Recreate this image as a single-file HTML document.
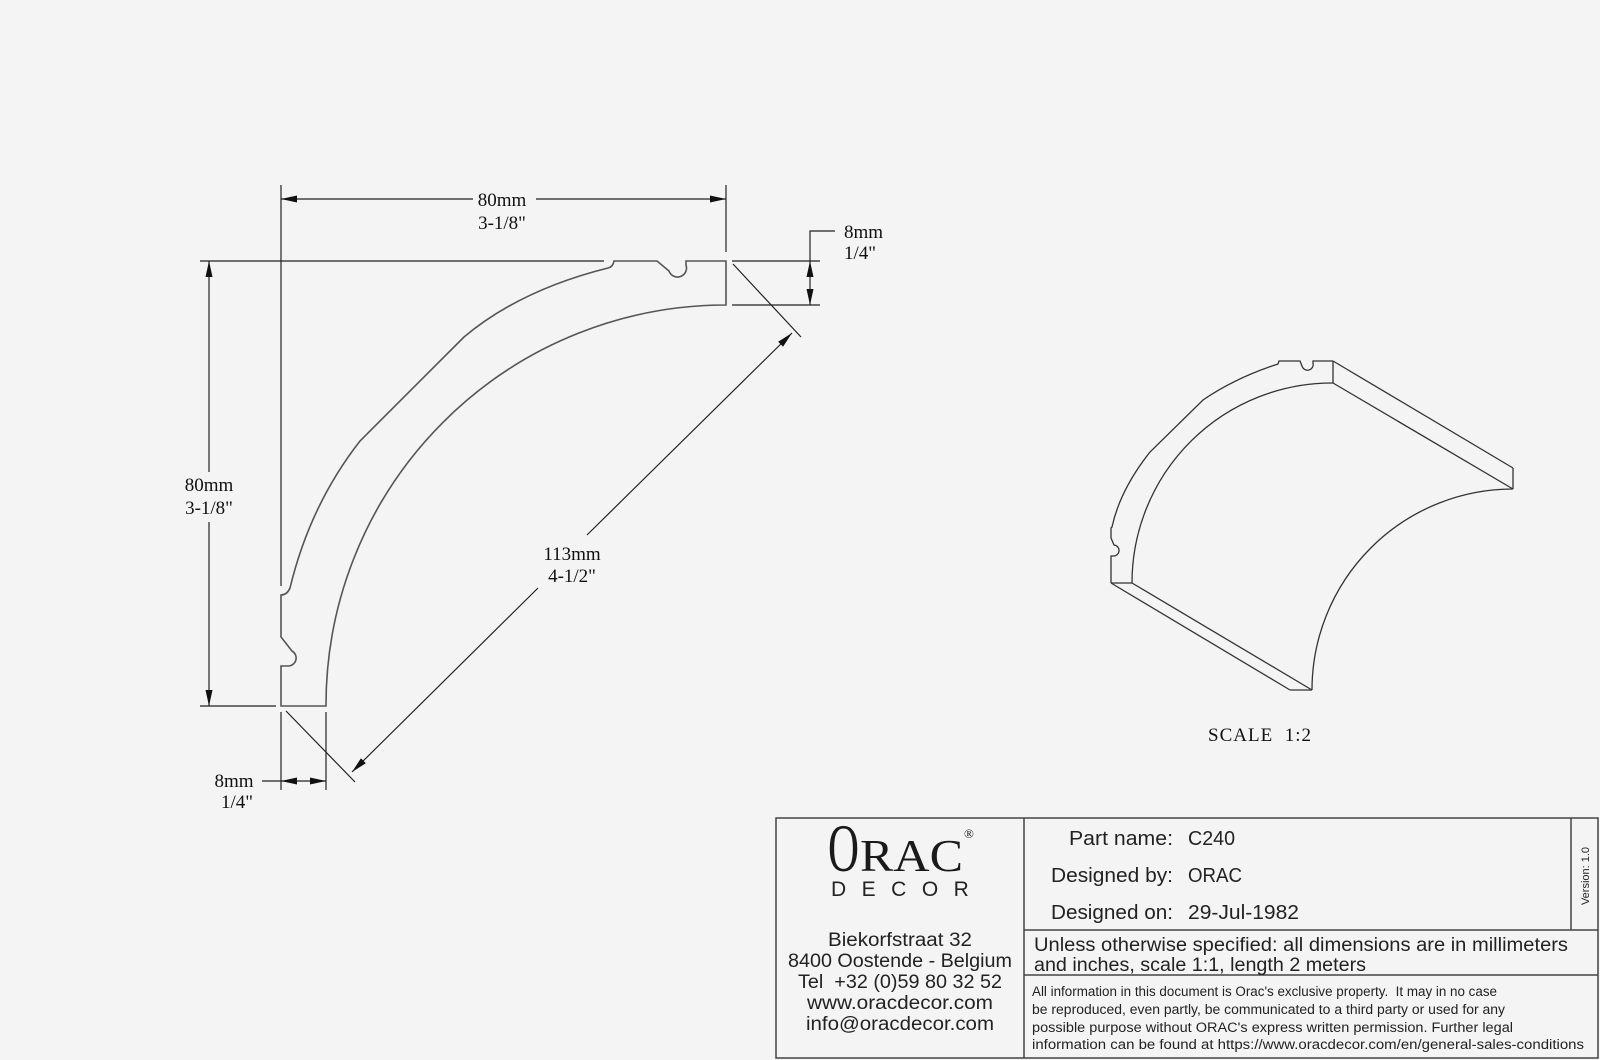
<!DOCTYPE html>
<html><head><meta charset="utf-8"><style>
html,body{margin:0;padding:0;background:#f4f4f4;}
svg{display:block}
.d{font-family:"Liberation Serif",serif;font-size:19px;fill:#111}
.c{font-family:"Liberation Sans",sans-serif;fill:#222}
</style></head><body>
<svg width="1600" height="1060" viewBox="0 0 1600 1060" xmlns="http://www.w3.org/2000/svg">
<defs>
<marker id="a" viewBox="0 0 16 7" refX="16" refY="3.5" markerWidth="16" markerHeight="7" orient="auto-start-reverse" markerUnits="userSpaceOnUse"><path d="M0,0 L16,3.5 L0,7 z" fill="#111"/></marker>
</defs>
<rect width="1600" height="1060" fill="#f4f4f4"/>
<g fill="none" stroke="#555" stroke-width="1.6">
<path d="M726,261 L686,261 L686,265 A9,9 0 0 1 669,271 L657,261 L614,261 Q613,267 608,268 Q520,290 464,337 L360,441 Q310,505 290,588 Q287,595 281,595 L281,637 L292,651 A8,8 0 0 1 288,666 L281,666 L281,706 L326,706 A400,400 0 0 1 726,305 Z"/>
</g>
<g fill="none" stroke="#222" stroke-width="1.2">
<line x1="281" y1="185" x2="281" y2="586"/>
<line x1="726" y1="185" x2="726" y2="252"/>
<line x1="200" y1="261" x2="604" y2="261"/>
<line x1="200" y1="706" x2="276" y2="706"/>
<line x1="732" y1="261" x2="820" y2="261"/>
<line x1="732" y1="305" x2="820" y2="305"/>
<line x1="281" y1="712" x2="281" y2="790"/>
<line x1="326" y1="712" x2="326" y2="790"/>
<line x1="733" y1="264" x2="801" y2="337"/>
<line x1="286" y1="711" x2="355" y2="782"/>
<line x1="281" y1="199" x2="473" y2="199" marker-start="url(#a)"/>
<line x1="536" y1="199" x2="726" y2="199" marker-end="url(#a)"/>
<line x1="209" y1="261" x2="209" y2="472" marker-start="url(#a)"/>
<line x1="209" y1="522" x2="209" y2="706" marker-end="url(#a)"/>
<line x1="810" y1="261" x2="810" y2="305" marker-start="url(#a)" marker-end="url(#a)"/>
<polyline points="810,261 810,231 835,231"/>
<line x1="281" y1="781" x2="326" y2="781" marker-start="url(#a)" marker-end="url(#a)"/>
<line x1="262" y1="781" x2="281" y2="781"/>
<line x1="792" y1="333" x2="587" y2="535" marker-start="url(#a)"/>
<line x1="538" y1="588" x2="352" y2="772" marker-end="url(#a)"/>
</g>
<g class="d">
<text x="502" y="206" text-anchor="middle">80mm</text>
<text x="502" y="229" text-anchor="middle">3-1/8"</text>
<text x="209" y="491" text-anchor="middle">80mm</text>
<text x="209" y="514" text-anchor="middle">3-1/8"</text>
<text x="844" y="238">8mm</text>
<text x="844" y="259">1/4"</text>
<text x="572" y="560" text-anchor="middle">113mm</text>
<text x="572" y="582" text-anchor="middle">4-1/2"</text>
<text x="234" y="787" text-anchor="middle">8mm</text>
<text x="237" y="808" text-anchor="middle">1/4"</text>
<text x="1260" y="741" text-anchor="middle" letter-spacing="1" xml:space="preserve">SCALE  1:2</text>
</g>
<g fill="none" stroke="#333" stroke-width="1.3">
<path d="M1333,361 L1313,361 L1313,363 A5,5 0 0 1 1302,366 L1300,361 L1279,361 L1278,364 Q1235,378 1203,400 L1150,452 Q1120,490 1112,527 L1111,528 L1111,538 L1114,545 A4,4 0 0 1 1113,556 L1111,556 L1111,583"/>
<line x1="1333" y1="361" x2="1333" y2="383"/>
<line x1="1333" y1="361" x2="1513" y2="468"/>
<line x1="1513" y1="468" x2="1513" y2="489"/>
<line x1="1333" y1="383" x2="1513" y2="489"/>
<path d="M1132,583 A200,200 0 0 1 1333,383"/>
<path d="M1513,489 A201,201 0 0 0 1312,690"/>
<line x1="1111" y1="583" x2="1132" y2="583"/>
<line x1="1111" y1="583" x2="1290" y2="690"/>
<line x1="1132" y1="583" x2="1312" y2="690"/>
<line x1="1290" y1="690" x2="1312" y2="690"/>
</g>
<g fill="none" stroke="#444" stroke-width="1.5">
<rect x="776" y="818" width="822" height="240"/>
<line x1="1024" y1="818" x2="1024" y2="1058"/>
<line x1="1571" y1="818" x2="1571" y2="930"/>
<line x1="1024" y1="930" x2="1598" y2="930"/>
<line x1="1024" y1="975" x2="1598" y2="975"/>
</g>
<g font-family="Liberation Serif,serif" fill="#1a1a1a">
<text x="828" y="871" font-size="68" textLength="31" lengthAdjust="spacingAndGlyphs">O</text>
<text x="860" y="871" font-size="46" textLength="103" lengthAdjust="spacingAndGlyphs">RAC</text>
<text x="964" y="838" font-size="13">®</text>
</g>
<text class="c" x="831" y="896" font-size="21" letter-spacing="15.5">DECOR</text>
<g class="c" font-size="19" text-anchor="middle">
<text x="900" y="946" textLength="144" lengthAdjust="spacingAndGlyphs">Biekorfstraat 32</text>
<text x="900" y="967" textLength="224" lengthAdjust="spacingAndGlyphs">8400 Oostende - Belgium</text>
<text x="900" y="988" textLength="204" lengthAdjust="spacingAndGlyphs" xml:space="preserve">Tel  +32 (0)59 80 32 52</text>
<text x="900" y="1009" textLength="186" lengthAdjust="spacingAndGlyphs">www.oracdecor.com</text>
<text x="900" y="1030" textLength="188" lengthAdjust="spacingAndGlyphs">info@oracdecor.com</text>
</g>
<g class="c" font-size="20">
<text x="1173" y="845" text-anchor="end" textLength="104" lengthAdjust="spacingAndGlyphs">Part name:</text>
<text x="1173" y="882" text-anchor="end" textLength="122" lengthAdjust="spacingAndGlyphs">Designed by:</text>
<text x="1173" y="919" text-anchor="end" textLength="122" lengthAdjust="spacingAndGlyphs">Designed on:</text>
<text x="1188" y="845" textLength="47" lengthAdjust="spacingAndGlyphs">C240</text>
<text x="1188" y="882" textLength="54" lengthAdjust="spacingAndGlyphs">ORAC</text>
<text x="1188" y="919" textLength="111" lengthAdjust="spacingAndGlyphs">29-Jul-1982</text>
</g>
<g class="c" font-size="19">
<text x="1034" y="951" textLength="534" lengthAdjust="spacingAndGlyphs">Unless otherwise specified: all dimensions are in millimeters</text>
<text x="1034" y="971" textLength="332" lengthAdjust="spacingAndGlyphs">and inches, scale 1:1, length 2 meters</text>
</g>
<g class="c" font-size="13.5">
<text x="1032" y="996" textLength="465" lengthAdjust="spacingAndGlyphs" xml:space="preserve">All information in this document is Orac's exclusive property.  It may in no case</text>
<text x="1032" y="1014" textLength="473" lengthAdjust="spacingAndGlyphs">be reproduced, even partly, be communicated to a third party or used for any</text>
<text x="1032" y="1032" textLength="481" lengthAdjust="spacingAndGlyphs">possible purpose without ORAC's express written permission. Further legal</text>
<text x="1032" y="1049" textLength="552" lengthAdjust="spacingAndGlyphs">information can be found at https://www.oracdecor.com/en/general-sales-conditions</text>
</g>
<text class="c" font-size="11" transform="translate(1589,876) rotate(-90)" text-anchor="middle">Version: 1.0</text>
</svg>
</body></html>
